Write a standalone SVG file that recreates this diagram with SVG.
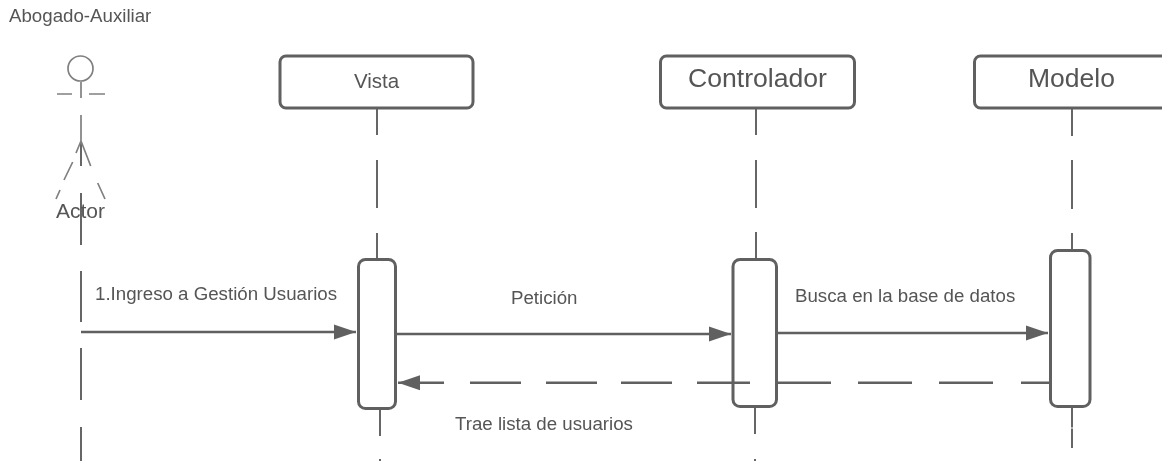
<svg xmlns="http://www.w3.org/2000/svg" width="1162" height="461" viewBox="0 0 1162 461">
<style>
text{font-family:"Liberation Sans",Arial,sans-serif;fill:#555;font-size:18.7px}
.c{text-anchor:middle}
.box{fill:#fff;stroke:#616161;stroke-width:3}
.life{fill:none;stroke:#666;stroke-width:2}
.msg{fill:none;stroke:#616161;stroke-width:2.4}
.actor{fill:none;stroke:#808080;stroke-width:1.7}
</style>
<defs>
<marker id="arrow" markerUnits="userSpaceOnUse" markerWidth="22" markerHeight="16" refX="22" refY="8" orient="auto"><path d="M0 0.5L22 8L0 15.5Z" fill="#616161"/></marker>
<filter id="soft" x="0" y="0" width="100%" height="100%"><feGaussianBlur stdDeviation="0.4"/></filter>
</defs>
<rect width="1162" height="461" fill="#fff"/>
<g filter="url(#soft)">
<g id="connectors">
<path class="life" d="M377 109V135M377 160V208M377 233V260M380 409V436M380 459V461"/>
<path class="life" d="M756 109V135M756 160V208M756 232V260M755 406V434M755 459V461"/>
<path class="life" d="M1072 109V136M1072 160V209M1072 233V251M1072 407V427.500M1072 428.500V448"/>
<path class="life" d="M81 141V166M81 193V245M81 271V322M81 348V400M81 427V461"/>
</g>
<g id="actor">
<circle class="actor" cx="80.500" cy="68.500" r="12.500"/>
<path class="actor" d="M81 82V98M57 94H72M89 94H105M81 115V141M72.700 162L64 180M60 190L56 199M81 141L90.700 166M97.700 183L105 199M81 141L76 153"/>
<text x="80.500" y="218" class="c" style="font-size:21px">Actor</text>
</g>
<g id="vista">
<rect class="box" x="280" y="56" width="193" height="52" rx="6"/>
<text x="376.500" y="88" class="c" style="font-size:20.500px">Vista</text>
</g>
<g id="controlador">
<rect class="box" x="660.500" y="56" width="194" height="52" rx="6"/>
<text x="757.500" y="87" class="c" style="font-size:26.600px">Controlador</text>
</g>
<g id="modelo">
<rect class="box" x="974.500" y="56" width="200" height="52" rx="6"/>
<text x="1071.500" y="87" class="c" style="font-size:26.500px">Modelo</text>
</g>
<g id="activation-vista"><rect class="box" x="358.500" y="259.500" width="37" height="149" rx="7"/></g>
<g id="activation-controlador"><rect class="box" x="733" y="259.500" width="43.500" height="147" rx="7"/></g>
<g id="activation-modelo"><rect class="box" x="1050.500" y="250.500" width="39.500" height="156" rx="7"/></g>
<g id="messages">
<path class="msg" marker-end="url(#arrow)" d="M81 332H356"/>
<path class="msg" marker-end="url(#arrow)" d="M396 334H731"/>
<path class="msg" marker-end="url(#arrow)" d="M777 333H1048"/>
<path class="msg" d="M1050 382.700H1021M993 382.700H939M912 382.700H858M831 382.700H777M750 382.700H697M672 382.700H621M597 382.700H546M521 382.700H470"/>
<path class="msg" marker-end="url(#arrow)" d="M444 382.700H398"/>
</g>
<text x="9" y="22">Abogado-Auxiliar</text>
<text x="95" y="300">1.Ingreso a Gestión Usuarios</text>
<text x="511" y="304">Petición</text>
<text x="795" y="302">Busca en la base de datos</text>
<text x="455" y="430">Trae lista de usuarios</text>
</g>
</svg>
